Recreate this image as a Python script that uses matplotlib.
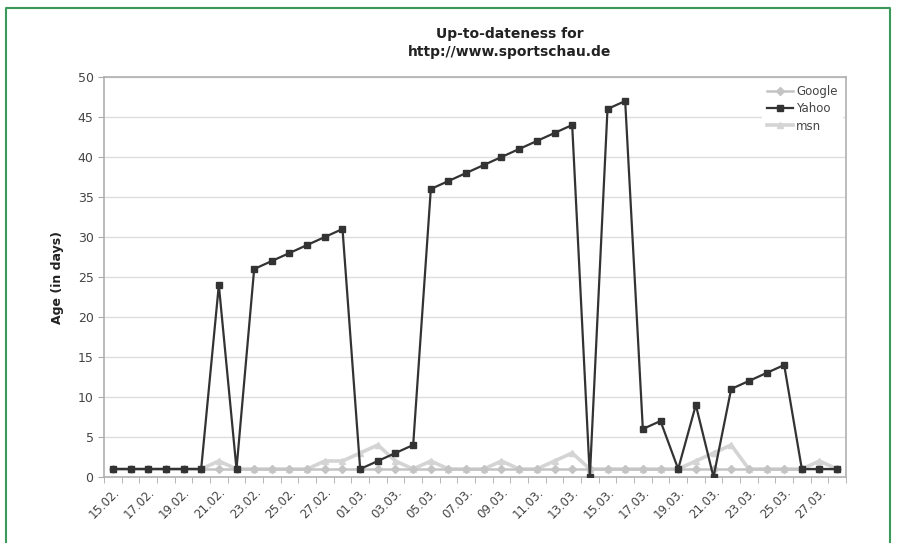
import matplotlib
matplotlib.use('Agg')
import matplotlib.pyplot as plt
from matplotlib.lines import Line2D

# DATA
DATES = ['15.02.', '16.02.', '17.02.', '18.02.', '19.02.', '20.02.', '21.02.',
         '22.02.', '23.02.', '24.02.', '25.02.', '26.02.', '27.02.', '28.02.',
         '01.03.', '02.03.', '03.03.', '04.03.', '05.03.', '06.03.', '07.03.',
         '08.03.', '09.03.', '10.03.', '11.03.', '12.03.', '13.03.', '14.03.',
         '15.03.', '16.03.', '17.03.', '18.03.', '19.03.', '20.03.', '21.03.',
         '22.03.', '23.03.', '24.03.', '25.03.', '26.03.', '27.03.', '28.03.']

GOOGLE = [1] * 42

YAHOO = [1, 1, 1, 1, 1, 1, 24, 1, 26, 27, 28, 29, 30, 31,
         1, 2, 3, 4, 36, 37, 38, 39, 40, 41, 42, 43, 44, 0,
         46, 47, 6, 7, 1, 9, 0, 11, 12, 13, 14, 1, 1, 1]

MSN = [1, 1, 1, 1, 1, 1, 2, 1, 1, 1, 1, 1, 2, 2,
       3, 4, 2, 1, 2, 1, 1, 1, 2, 1, 1, 2, 3, 1,
       1, 1, 1, 1, 1, 2, 3, 4, 1, 1, 1, 1, 2, 1]

TITLE = 'Up-to-dateness for\nhttp://www.sportschau.de'
YLABEL = 'Age (in days)'

TEXT_COLOR = '#444444'


def plot_chart():
    fig = plt.figure(figsize=(8.99, 5.43), dpi=100)
    ax = fig.add_axes([104 / 899, 1 - 477 / 543, (846 - 104) / 899, (477 - 77) / 543])

    x = list(range(len(DATES)))

    # light series first, Yahoo on top
    ax.plot(x, MSN, color='#d4d4d4', lw=2.6, marker='^', ms=5,
            markerfacecolor='#d4d4d4', markeredgecolor='#d4d4d4', label='msn', zorder=3)
    ax.plot(x, GOOGLE, color='#c4c4c4', lw=1.8, marker='D', ms=4,
            markerfacecolor='#c4c4c4', markeredgecolor='#c4c4c4', label='Google', zorder=4)
    ax.plot(x, YAHOO, color='#333333', lw=1.6, marker='s', ms=5,
            markerfacecolor='#333333', markeredgecolor='#333333', label='Yahoo', zorder=5)

    ax.set_xlim(-0.5, len(DATES) - 0.5)
    ax.set_ylim(0, 50)
    ax.set_yticks(range(0, 51, 5))
    ax.yaxis.grid(True, color='#dddddd', lw=1)
    ax.set_axisbelow(True)

    ax.set_xticks(x[::2])
    ax.set_xticklabels(DATES[::2], rotation=45, ha='right', rotation_mode='anchor')
    ax.set_xticks([i - 0.5 for i in range(len(DATES) + 1)], minor=True)
    ax.tick_params(axis='x', which='major', length=0, pad=6, labelsize=8.5, labelcolor=TEXT_COLOR)
    ax.tick_params(axis='x', which='minor', length=4, color='#aaaaaa')
    ax.tick_params(axis='y', length=4, color='#aaaaaa', labelsize=9, labelcolor=TEXT_COLOR)

    for spine in ax.spines.values():
        spine.set_color('#b0b0b0')
        spine.set_linewidth(1.2)

    ax.set_ylabel(YLABEL, fontsize=9, fontweight='bold', color='#222222', labelpad=10)

    handles, labels = ax.get_legend_handles_labels()
    order = [labels.index('Google'), labels.index('Yahoo'), labels.index('msn')]
    leg = ax.legend([handles[i] for i in order], [labels[i] for i in order],
                    loc='upper right', frameon=True, fontsize=8.5, handlelength=2.2,
                    borderaxespad=0.3, labelspacing=0.35, handletextpad=0.3)
    leg.get_frame().set_edgecolor('white')
    leg.get_frame().set_facecolor('white')
    leg.get_frame().set_alpha(1)
    for t in leg.get_texts():
        t.set_color(TEXT_COLOR)

    fig.text(510 / 899, 1 - 43 / 543, TITLE, ha='center', va='center',
             fontsize=10, fontweight='bold', color='#222222', linespacing=1.4)

    # green frame (open at the bottom)
    frame_color = '#3a9a5c'
    l, r, t = 6 / 899, 890 / 899, 1 - 8 / 543
    fig.add_artist(Line2D([l, l, r, r], [0, t, t, 0], transform=fig.transFigure,
                          color=frame_color, lw=1.5))

    fig.savefig('out.png', dpi=100)


plot_chart()
